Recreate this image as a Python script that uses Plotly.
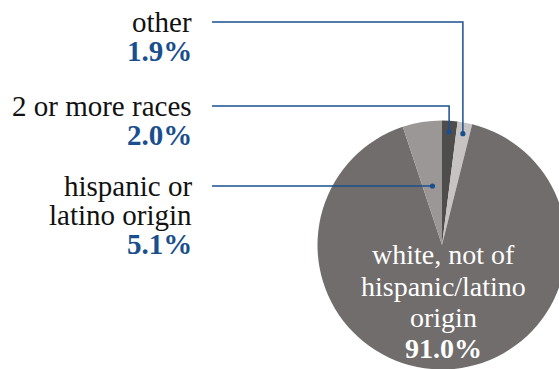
import math
import plotly.graph_objects as go

# ---- data ----
labels = ["2 or more races", "other", "white, not of hispanic/latino origin", "hispanic or latino origin"]
values = [2.0, 1.9, 91.0, 5.1]
label_lines = [["2 or more races"], ["other"], ["white, not of", "hispanic/latino", "origin"], ["hispanic or", "latino origin"]]
slice_colors = ["#4f4d4c", "#c6c3c2", "#706d6c", "#9a9796"]

# figure slightly larger than the 559x369 window so the pie can bleed off the edges
W, H = 570, 372
BLUE = "#1a4f8e"
FONT = "Liberation Serif"

# pie geometry in window pixels
CX, CY, R = 442.0, 245.0, 124.5


def px(x):
    return x / W


def py(y):
    return 1 - y / H


fig = go.Figure()
fig.add_trace(go.Pie(
    labels=labels, values=values, sort=False, direction="clockwise", rotation=0,
    marker=dict(colors=slice_colors, line=dict(width=0)),
    textinfo="none", hoverinfo="skip", showlegend=False,
    domain=dict(x=[px(CX - R), px(CX + R)], y=[py(CY + R), py(CY - R)]),
))

total = sum(values)
cum = 0.0
mids = []
for v in values:
    mids.append((cum + v / 2) / total * 2 * math.pi)
    cum += v


def slice_point(i, frac):
    a = mids[i]
    return CX + R * frac * math.sin(a), CY - R * frac * math.cos(a)


shapes = []
annotations = []
LX0 = 212  # start of leader lines
LABEL_X = 194
LINE_H = 29
FS = 29


def add_dot(x, y):
    shapes.append(dict(type="circle", xref="paper", yref="paper", layer="above",
                       x0=px(x - 2.6), x1=px(x + 2.6), y0=py(y + 2.6), y1=py(y - 2.6),
                       fillcolor=BLUE, line=dict(width=0)))


def add_line(pts):
    path = "M " + " L ".join(f"{px(x)},{py(y)}" for x, y in pts)
    shapes.append(dict(type="path", xref="paper", yref="paper", layer="above",
                       path=path, line=dict(color=BLUE, width=1.5)))


def add_label(i, y_top):
    lines = label_lines[i]
    for k, t in enumerate(lines):
        annotations.append(dict(x=px(LABEL_X), y=py(y_top + k * LINE_H), xref="paper", yref="paper",
                                text=t, showarrow=False, xanchor="right", yanchor="middle",
                                font=dict(family=FONT, size=FS, color="#111111")))
    annotations.append(dict(x=px(LABEL_X), y=py(y_top + len(lines) * LINE_H), xref="paper", yref="paper",
                            text=f"<b>{values[i]:.1f}%</b>", showarrow=False, xanchor="right",
                            yanchor="middle", font=dict(family=FONT, size=FS, color=BLUE)))


# "other" (index 1) and "2 or more races" (index 0): elbow leaders
for i, ly, frac in [(1, 22, 0.91), (0, 106, 0.91)]:
    dx, dy = slice_point(i, frac)
    add_line([(LX0, ly), (dx, ly), (dx, dy)])
    add_dot(dx, dy)
    add_label(i, ly)

# hispanic (index 3): straight leader
hx, hy = slice_point(3, 0.48)
add_line([(LX0, hy), (hx, hy)])
add_dot(hx, hy)
add_label(3, hy)

# white slice: text inside pie
wl = label_lines[2]
for k, t in enumerate(wl):
    annotations.append(dict(x=px(CX + 1), y=py(255 + k * 31), xref="paper", yref="paper",
                            text=t, showarrow=False, xanchor="center", yanchor="middle",
                            font=dict(family=FONT, size=28, color="white")))
annotations.append(dict(x=px(CX + 1), y=py(255 + len(wl) * 31), xref="paper", yref="paper",
                        text=f"<b>{values[2]:.1f}%</b>", showarrow=False, xanchor="center",
                        yanchor="middle", font=dict(family=FONT, size=28, color="white")))

fig.update_layout(
    width=W, height=H, margin=dict(l=0, r=0, t=0, b=0),
    paper_bgcolor="white", plot_bgcolor="white",
    shapes=shapes, annotations=annotations,
)
fig.write_html(
    "out.html",
    config={"displayModeBar": False},
    post_script="document.body.style.margin='0';document.body.style.overflow='hidden';"
                "document.documentElement.style.overflow='hidden';",
)
